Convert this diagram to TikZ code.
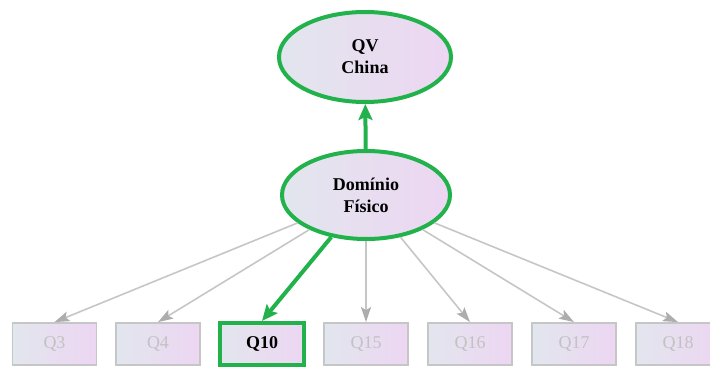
\documentclass[tikz,border=0pt]{standalone}
\usepackage{fontspec}
\setmainfont{Liberation Serif}
\usetikzlibrary{shapes.geometric,arrows.meta}
\definecolor{hlgreen}{HTML}{22B24C}
\definecolor{fillL}{HTML}{E2E6EE}
\definecolor{fillR}{HTML}{EDD6F2}
\definecolor{dimline}{HTML}{C6C6C6}
\definecolor{dimtip}{HTML}{ADADAD}
\definecolor{dimtext}{HTML}{C2C2C2}
\tikzset{
  latent/.style={ellipse, draw=hlgreen, line width=4pt, left color=fillL, right color=fillR,
    minimum width=172pt, minimum height=90pt, inner sep=0pt, align=center,
    font=\fontsize{18}{22}\selectfont\bfseries},
  indicator/.style={rectangle, draw=dimline, line width=1.8pt, left color=fillL, right color=fillR,
    minimum width=84pt, minimum height=42pt, inner sep=0pt, text=dimtext,
    font=\fontsize{18}{20}\selectfont},
  picked/.style={indicator, draw=hlgreen, line width=4pt, text=black, font=\fontsize{18}{20}\selectfont\bfseries},
  dimedge/.style={draw=dimline, line width=1.6pt, -{Stealth[length=15pt,width=10pt,inset=3pt,color=dimtip]}},
  hotedge/.style={draw=hlgreen, line width=4pt, -{Stealth[length=16pt,width=14pt,inset=3pt]}}
}
\begin{document}
\begin{tikzpicture}[x=1pt,y=-1pt]
\useasboundingbox (0,0) rectangle (710,367);
\clip (0,0) rectangle (710,367);
% latent variables
\node[latent] (qv) at (365,57) {QV\\China};
\node[latent, minimum width=168pt, minimum height=88pt] (fis) at (366,195) {Domínio\\Físico};
% observed items
\node[indicator] (q3)  at (54.5,344) {Q3};
\node[indicator] (q4)  at (158,344) {Q4};
\node[picked]    (q10) at (262,344) {Q10};
\node[indicator] (q15) at (366,344) {Q15};
\node[indicator] (q16) at (470,344) {Q16};
\node[indicator] (q17) at (574,344) {Q17};
\node[indicator] (q18) at (678,344) {Q18};
% loadings
\foreach \q in {q3,q4,q15,q16,q17,q18}
  \draw[dimedge] (fis) -- (\q.north);
\draw[hotedge] (fis) -- (q10.north);
\draw[hotedge] (fis) -- (qv);
\end{tikzpicture}
\end{document}
